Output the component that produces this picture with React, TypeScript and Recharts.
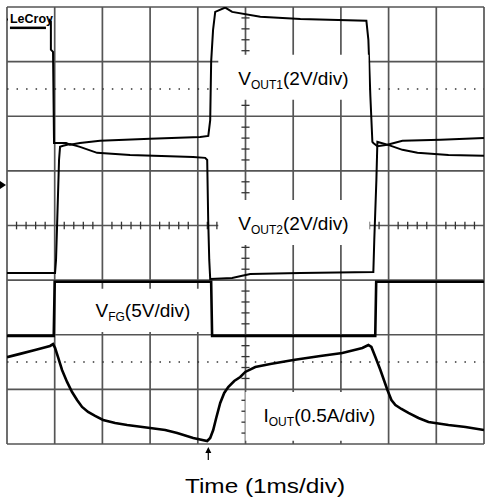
import { LineChart, Line, XAxis, YAxis, ReferenceLine, ReferenceArea, ReferenceDot } from "recharts";

// graticule: 10 time divisions (1 ms/div), 8 vertical divisions
const timeDivs = [0, 1, 2, 3, 4, 5, 6, 7, 8, 9, 10];
const ampDivs = [0, 1, 2, 3, 4, 5, 6, 7, 8];
const dottedRows = [6.5, 1.5];

// traces, [time in ms, level in divisions from the bottom]
const vout1 = [
  [0, 7.77], [0.88, 7.77], [0.92, 7.73], [0.92, 7.22], [0.965, 7.18], [0.986, 5.51],
  [1.24, 5.51], [1.32, 5.48], [1.53, 5.51], [1.95, 5.55], [3.0, 5.59], [4.05, 5.62],
  [4.22, 5.64], [4.26, 5.93], [4.28, 7.0], [4.32, 7.58], [4.365, 7.91], [4.575, 7.99],
  [4.72, 7.91], [5.31, 7.82], [6.15, 7.78], [7.534, 7.75], [7.576, 7.4], [7.618, 6.36],
  [7.66, 5.53], [7.68, 5.51], [7.765, 5.45], [7.975, 5.48], [8.29, 5.55], [9.09, 5.57],
  [10, 5.6],
];
const vout2 = [
  [0, 3.13], [1.007, 3.13], [1.028, 3.37], [1.049, 3.97], [1.091, 5.2], [1.112, 5.44],
  [1.175, 5.46], [1.322, 5.49], [1.53, 5.44], [1.889, 5.33], [2.58, 5.29], [3.9, 5.256],
  [4.155, 5.238], [4.197, 5.2], [4.218, 4.1], [4.24, 3.37], [4.26, 3.02], [4.72, 3.04],
  [4.93, 3.08], [5.1, 3.11], [6.15, 3.13], [7.68, 3.15], [7.7, 3.74], [7.744, 4.835],
  [7.765, 5.53], [7.975, 5.48], [8.29, 5.385], [8.605, 5.33], [9.255, 5.29], [10, 5.275],
];
const vfg = [
  [0, 1.98], [0.98, 1.98], [1.0, 2.97], [4.28, 2.97], [4.3, 1.98], [7.72, 1.98],
  [7.74, 2.97], [10, 2.97],
];
const iout = [
  [0, 1.59], [0.273, 1.65], [0.588, 1.72], [0.902, 1.795], [0.965, 1.83], [1.007, 1.76],
  [1.07, 1.59], [1.154, 1.355], [1.259, 1.136], [1.364, 0.952], [1.469, 0.806],
  [1.574, 0.678], [1.7, 0.586], [1.847, 0.513], [2.015, 0.44], [2.267, 0.385],
  [2.518, 0.348], [3.0, 0.293], [3.316, 0.256], [3.568, 0.201], [3.903, 0.11],
  [4.197, 0.055], [4.26, 0.11], [4.323, 0.256], [4.386, 0.476], [4.47, 0.751],
  [4.554, 0.934], [4.638, 1.044], [4.764, 1.154], [4.89, 1.227], [4.995, 1.319],
  [5.205, 1.41], [5.519, 1.465], [6.002, 1.538], [6.569, 1.612], [7.03, 1.667],
  [7.45, 1.758], [7.576, 1.813], [7.639, 1.777], [7.723, 1.593], [7.828, 1.355],
  [7.975, 0.989], [8.059, 0.806], [8.143, 0.714], [8.269, 0.641], [8.416, 0.568],
  [8.626, 0.476], [8.836, 0.403], [9.255, 0.348], [9.612, 0.311], [10, 0.256],
];

const groundMarker = 4.74;
const triggerTime = 4.22;

const toPts = (arr: number[][]) => arr.map(([t, v]) => ({ t, v }));

const FONT = "'Liberation Sans', Arial, sans-serif";
const GRID = "#555";

// minor ticks on the centre axes, 5 per division
const xMinor: number[] = [];
for (let i = 1; i < 50; i++) if (i % 5) xMinor.push(i / 5);
const yMinor: number[] = [];
for (let i = 1; i < 40; i++) if (i % 5) yMinor.push(i / 5);

const BoxLabel = (props: any) => {
  const { viewBox, main, sub, rest, dx, dy } = props;
  if (!viewBox) return null;
  return (
    <text x={viewBox.x + dx} y={viewBox.y + dy} fontFamily={FONT} fontSize={19} fill="#000">
      <tspan>{main}</tspan>
      <tspan fontSize={12} dy={4}>{sub}</tspan>
      <tspan dy={-4}>{rest}</tspan>
    </text>
  );
};

const LogoLabel = (props: any) => {
  const { viewBox } = props;
  if (!viewBox) return null;
  return (
    <g>
      <text x={viewBox.x + 2} y={viewBox.y + 15} fontFamily={FONT} fontWeight="bold" fontSize={12} textLength={43} lengthAdjust="spacingAndGlyphs" fill="#000">
        LeCroy
      </text>
      <rect x={viewBox.x + 2} y={viewBox.y + 18.5} width={36} height={2.5} fill="#000" />
    </g>
  );
};

const TimeLabel = (props: any) => {
  const { viewBox } = props;
  if (!viewBox) return null;
  return (
    <text x={viewBox.x + 178} y={viewBox.y + 49} fontFamily={FONT} fontSize={21} textLength={160} lengthAdjust="spacingAndGlyphs" fill="#000">
      Time (1ms/div)
    </text>
  );
};

const GroundArrow = (p: any) => (
  <polygon points={`${p.cx - 7},${p.cy - 4} ${p.cx - 1},${p.cy} ${p.cx - 7},${p.cy + 4}`} fill="#000" />
);

const TriggerArrow = (p: any) => (
  <g>
    <line x1={p.cx} y1={p.cy + 5} x2={p.cx} y2={p.cy + 16} stroke="#000" strokeWidth={1.2} />
    <polygon points={`${p.cx - 3},${p.cy + 9} ${p.cx},${p.cy + 3} ${p.cx + 3},${p.cy + 9}`} fill="#000" />
  </g>
);

const App = () => {
  return (
    <div style={{ position: "absolute", left: 0, top: 0, width: 485, height: 503, background: "#fff" }}>
      <LineChart width={485} height={503} margin={{ top: 7, right: 1, left: 7, bottom: 0 }}>
        <XAxis
          type="number"
          dataKey="t"
          domain={[0, 10]}
          allowDataOverflow
          tick={false}
          tickLine={false}
          axisLine={false}
          height={59}
          label={<TimeLabel />}
        />
        <YAxis type="number" dataKey="v" domain={[0, 8]} allowDataOverflow hide />

        {timeDivs.map((t) => (
          <ReferenceLine key={"gx" + t} x={t} stroke={GRID} strokeWidth={1.7} zIndex={-100} />
        ))}
        {ampDivs.map((v) => (
          <ReferenceLine key={"gy" + v} y={v} stroke={GRID} strokeWidth={1.7} zIndex={-100} />
        ))}
        {dottedRows.map((v) => (
          <ReferenceLine key={"dot" + v} y={v} stroke="#333" strokeWidth={1.5} strokeDasharray="1.5 8.03" zIndex={-100} />
        ))}
        {xMinor.map((t) => (
          <ReferenceLine key={"mx" + t} segment={[{ x: t, y: 3.93 }, { x: t, y: 4.07 }]} stroke="#333" strokeWidth={1.3} zIndex={-100} />
        ))}
        {yMinor.map((v) => (
          <ReferenceLine key={"my" + v} segment={[{ x: 4.915, y: v }, { x: 5.085, y: v }]} stroke="#333" strokeWidth={1.3} zIndex={-100} />
        ))}

        <Line data={toPts(vout1)} dataKey="v" type="linear" stroke="#000" strokeWidth={2} dot={false} isAnimationActive={false} />
        <Line data={toPts(vout2)} dataKey="v" type="linear" stroke="#000" strokeWidth={2} dot={false} isAnimationActive={false} />
        <Line data={toPts(vfg)} dataKey="v" type="linear" stroke="#000" strokeWidth={2.6} dot={false} isAnimationActive={false} />
        <Line data={toPts(iout)} dataKey="v" type="linear" stroke="#000" strokeWidth={2.6} dot={false} isAnimationActive={false} />

        <ReferenceArea x1={0.02} x2={0.88} y1={7.58} y2={7.98} fill="#fff" fillOpacity={1} ifOverflow="visible" zIndex={700} label={<LogoLabel />} />
        <ReferenceArea x1={4.43} x2={7.58} y1={6.3} y2={7.125} fill="#fff" fillOpacity={1} zIndex={700}
          label={<BoxLabel main="V" sub="OUT1" rest="(2V/div)" dx={20} dy={30} />} />
        <ReferenceArea x1={4.43} x2={7.6} y1={3.645} y2={4.469} fill="#fff" fillOpacity={1} zIndex={700}
          label={<BoxLabel main="V" sub="OUT2" rest="(2V/div)" dx={20} dy={30} />} />
        <ReferenceArea x1={1.1} x2={4.25} y1={2.05} y2={2.84} fill="#fff" fillOpacity={1} zIndex={700}
          label={<BoxLabel main="V" sub="FG" rest="(5V/div)" dx={36} dy={28} />} />
        <ReferenceArea x1={5.0} x2={7.93} y1={0.06} y2={0.95} fill="#fff" fillOpacity={1} zIndex={700}
          label={<BoxLabel main="I" sub="OUT" rest="(0.5A/div)" dx={18} dy={30} />} />

        <ReferenceDot x={0} y={groundMarker} r={0} ifOverflow="visible" shape={GroundArrow} zIndex={800} />
        <ReferenceDot x={triggerTime} y={0} r={0} ifOverflow="visible" shape={TriggerArrow} zIndex={800} />
      </LineChart>
    </div>
  );
};

export default App;
